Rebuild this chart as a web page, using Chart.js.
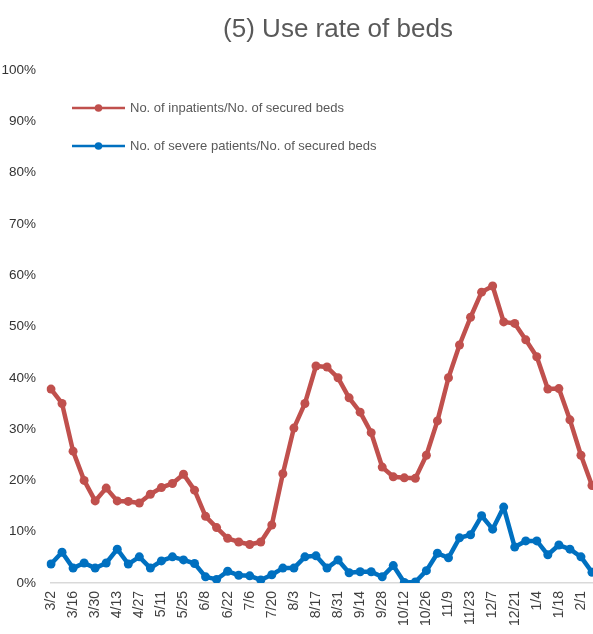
<!DOCTYPE html>
<html>
<head>
<meta charset="utf-8">
<script src="https://cdn.jsdelivr.net/npm/chart.js@4"></script>
<style>
  html, body { margin: 0; padding: 0; background: #ffffff; overflow: hidden; }
  #wrap { width: 593px; height: 634px; position: relative; }
</style>
</head>
<body>
<div id="wrap"><canvas id="c" width="593" height="634"></canvas></div>
<script>
const chartTitle = "(5) Use rate of beds";
const weeks = ["3/2","3/9","3/16","3/23","3/30","4/6","4/13","4/20","4/27","5/4","5/11","5/18","5/25","6/1","6/8","6/15","6/22","6/29","7/6","7/13","7/20","7/27","8/3","8/10","8/17","8/24","8/31","9/7","9/14","9/21","9/28","10/5","10/12","10/19","10/26","11/2","11/9","11/16","11/23","11/30","12/7","12/14","12/21","12/28","1/4","1/11","1/18","1/25","2/1","2/8"];
const inpatientsLabel = "No. of inpatients/No. of secured beds";
const severeLabel = "No. of severe patients/No. of secured beds";
const inpatients = [37.8,35,25.7,20,16,18.5,16,15.9,15.6,17.3,18.6,19.4,21.2,18.1,13,10.8,8.7,8,7.5,8,11.3,21.3,30.2,35,42.3,42.1,40,36.1,33.3,29.3,22.6,20.7,20.5,20.4,24.9,31.6,40,46.4,51.8,56.7,57.9,50.9,50.6,47.4,44.1,37.8,37.9,31.8,24.9,19];
const severe = [3.7,6,2.9,3.9,2.9,3.9,6.6,3.7,5.1,2.9,4.3,5.1,4.5,3.8,1.2,0.7,2.3,1.5,1.4,0.6,1.6,2.9,2.9,5.1,5.3,2.9,4.5,2.0,2.2,2.2,1.2,3.4,0.1,0.2,2.4,5.8,4.9,8.8,9.4,13.1,10.5,14.8,7,8.2,8.2,5.5,7.4,6.6,5.1,2.1];
const yTicks = [0,10,20,30,40,50,60,70,80,90,100];

const RED = '#C0504D';
const BLUE = '#0070C0';

const titlePlugin = {
  id: 'customTitle',
  afterDraw(chart) {
    const ctx = chart.ctx;
    ctx.save();
    ctx.font = '26px "Liberation Sans", Arial, sans-serif';
    ctx.fillStyle = '#595959';
    ctx.textAlign = 'center';
    ctx.textBaseline = 'middle';
    ctx.fillText(chartTitle, 338, 30);
    ctx.restore();
  }
};

const legendPlugin = {
  id: 'innerLegend',
  afterDraw(chart) {
    const ctx = chart.ctx;
    const area = chart.chartArea;
    const rows = [108, 146];
    ctx.save();
    chart.data.datasets.forEach((ds, i) => {
      const y = rows[i];
      const x0 = area.left + 21, x1 = area.left + 74;
      ctx.strokeStyle = ds.borderColor;
      ctx.lineWidth = 2.5;
      ctx.beginPath();
      ctx.moveTo(x0, y);
      ctx.lineTo(x1, y);
      ctx.stroke();
      ctx.fillStyle = ds.borderColor;
      ctx.beginPath();
      ctx.arc((x0 + x1) / 2, y, 3.8, 0, Math.PI * 2);
      ctx.fill();
      ctx.font = '13px "Liberation Sans", Arial, sans-serif';
      ctx.fillStyle = '#595959';
      ctx.textAlign = 'left';
      ctx.textBaseline = 'middle';
      ctx.fillText(ds.label, x1 + 5, y);
    });
    ctx.restore();
  }
};

new Chart(document.getElementById('c'), {
  type: 'line',
  data: {
    labels: weeks,
    datasets: [
      {
        label: inpatientsLabel,
        data: inpatients,
        borderColor: RED,
        backgroundColor: RED,
        pointBackgroundColor: RED,
        pointBorderWidth: 0,
        pointRadius: 4.5,
        borderWidth: 4.5,
        borderJoinStyle: 'round',
        borderCapStyle: 'round',
        tension: 0
      },
      {
        label: severeLabel,
        data: severe,
        borderColor: BLUE,
        backgroundColor: BLUE,
        pointBackgroundColor: BLUE,
        pointBorderWidth: 0,
        pointRadius: 4.5,
        borderWidth: 4.5,
        borderJoinStyle: 'round',
        borderCapStyle: 'round',
        tension: 0
      }
    ]
  },
  options: {
    responsive: false,
    animation: false,
    events: [],
    layout: { autoPadding: false, padding: { top: 70, right: 1, bottom: 0, left: 0 } },
    plugins: {
      legend: { display: false },
      title: { display: false },
      tooltip: { enabled: false }
    },
    scales: {
      x: {
        type: 'category',
        offset: false,
        grid: { display: false, drawTicks: false },
        border: { display: true, color: '#d9d9d9', width: 1.5 },
        ticks: {
          autoSkip: false,
          maxRotation: 90,
          minRotation: 90,
          padding: 8,
          color: '#404040',
          font: { family: '"Liberation Sans", Arial, sans-serif', size: 14 },
          callback: function(v, i) { return i % 2 === 0 ? weeks[i] : ''; }
        },
        afterFit: function(scale) { scale.height = 51; scale.paddingLeft = 0; scale.paddingRight = 0; }
      },
      y: {
        min: 0,
        max: 100,
        grid: { display: false, drawTicks: false },
        border: { display: false },
        afterBuildTicks: function(scale) { scale.ticks = yTicks.map(v => ({ value: v })); },
        ticks: {
          padding: 15,
          color: '#333333',
          font: { family: '"Liberation Sans", Arial, sans-serif', size: 13.5 },
          callback: function(v) { return v + '%'; }
        },
        afterFit: function(scale) { scale.width = 51; scale.paddingTop = 0; scale.paddingBottom = 0; }
      }
    }
  },
  plugins: [titlePlugin, legendPlugin]
});
</script>
</body>
</html>
